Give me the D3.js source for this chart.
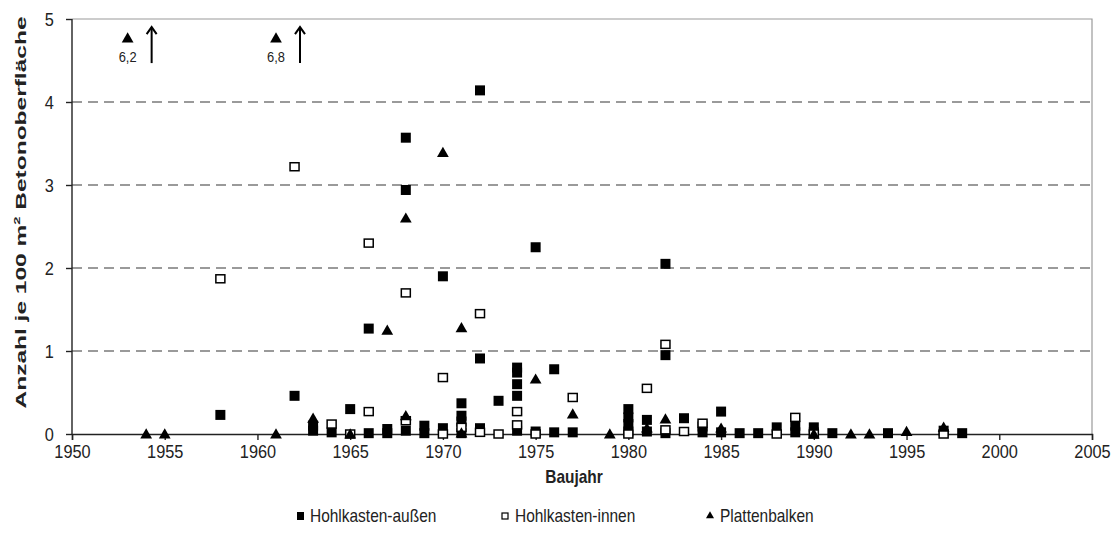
<!DOCTYPE html>
<html>
<head>
<meta charset="utf-8">
<script src="https://cdn.jsdelivr.net/npm/d3@7"></script>
<style>
  body { margin: 0; background: #fff; }
  text { font-family: "Liberation Sans", Arial, sans-serif; }
</style>
</head>
<body>
<div id="chart"></div>
<script>
// Hohlkasten-außen (filled squares)
const outerYears  = [1958, 1962, 1963, 1963, 1964, 1965, 1966, 1966, 1967, 1967, 1968, 1968, 1968,
                     1969, 1969, 1970, 1970, 1971, 1971, 1971, 1971, 1972, 1972, 1972, 1973,
                     1974, 1974, 1974, 1974, 1974, 1975, 1975, 1976, 1976, 1977,
                     1980, 1980, 1980, 1980, 1981, 1981, 1982, 1982, 1982, 1983, 1984, 1984,
                     1985, 1985, 1986, 1987, 1988, 1989, 1989, 1990, 1990, 1991, 1994, 1997, 1998];
const outerValues = [0.23, 0.46, 0.10, 0.04, 0.02, 0.30, 1.27, 0.01, 0.06, 0.01, 3.57, 2.94, 0.04,
                     0.10, 0.01, 1.90, 0.07, 0.37, 0.22, 0.15, 0.01, 4.14, 0.91, 0.07, 0.40,
                     0.80, 0.74, 0.60, 0.46, 0.04, 2.25, 0.03, 0.78, 0.02, 0.02,
                     0.30, 0.20, 0.12, 0.03, 0.17, 0.03, 2.05, 0.95, 0.01, 0.19, 0.09, 0.02,
                     0.27, 0.02, 0.01, 0.01, 0.08, 0.10, 0.02, 0.08, 0.02, 0.01, 0.01, 0.04, 0.01];

// Hohlkasten-innen (open squares)
const innerYears  = [1958, 1962, 1964, 1965, 1966, 1966, 1968, 1968, 1970, 1970, 1971, 1972, 1972,
                     1973, 1974, 1974, 1975, 1977, 1980, 1981, 1982, 1982, 1983, 1984, 1988,
                     1989, 1990, 1997];
const innerValues = [1.87, 3.22, 0.12, 0.00, 2.30, 0.27, 1.70, 0.16, 0.68, 0.00, 0.08, 1.45, 0.02,
                     0.00, 0.27, 0.11, 0.00, 0.44, 0.00, 0.55, 1.08, 0.05, 0.03, 0.13, 0.00,
                     0.20, 0.00, 0.00];

// Plattenbalken (triangles); values above 5 are off the scale
const beamYears  = [1953, 1954, 1955, 1961, 1961, 1963, 1965, 1967, 1968, 1968, 1970, 1971, 1971,
                    1975, 1977, 1979, 1981, 1982, 1985, 1990, 1992, 1993, 1995, 1997];
const beamValues = [6.2, 0.00, 0.00, 6.8, 0.00, 0.19, 0.00, 1.25, 2.60, 0.22, 3.39, 1.28, 0.01,
                    0.66, 0.24, 0.00, 0.07, 0.18, 0.07, 0.00, 0.00, 0.00, 0.03, 0.08];

const xTicks = d3.range(1950, 2006, 5);
const yTicks = [0, 1, 2, 3, 4, 5];
const seriesNames = ["Hohlkasten-außen", "Hohlkasten-innen", "Plattenbalken"];

const W = 1120, H = 549;
const mLeft = 72, mRight = 1092, mTop = 19, mBottom = 434;
const capValue = 4.77; // where off-scale points are drawn
const narrow = "scale(0.86,1)"; // the source text is tall and condensed

const svg = d3.select("#chart").append("svg")
    .attr("width", W).attr("height", H);

const x = d3.scaleLinear().domain([1950, 2005]).range([mLeft, mRight]);
const y = d3.scaleLinear().domain([0, 5]).range([mBottom, mTop]);

// dashed gridlines
svg.append("g").selectAll("line")
    .data(yTicks.filter(d => d > 0 && d < 5))
    .join("line")
    .attr("x1", mLeft).attr("x2", mRight)
    .attr("y1", d => y(d)).attr("y2", d => y(d))
    .attr("stroke", "#7a7a7a").attr("stroke-width", 1.6)
    .attr("stroke-dasharray", "10,6");

// top and right frame
svg.append("path")
    .attr("d", `M${mLeft},${y(5)}H${mRight}V${mBottom}`)
    .attr("fill", "none").attr("stroke", "#9a9a9a").attr("stroke-width", 1.2);

// axes
const xAxis = svg.append("g")
    .attr("transform", `translate(0,${mBottom})`)
    .call(d3.axisBottom(x).tickValues(xTicks).tickFormat(d3.format("d")).tickSize(6).tickPadding(5));
const yAxis = svg.append("g")
    .attr("transform", `translate(${mLeft},0)`)
    .call(d3.axisLeft(y).tickValues(yTicks).tickFormat(d3.format("d")).tickSize(6).tickPadding(15));
[xAxis, yAxis].forEach(g => {
    g.select(".domain").attr("stroke", "#222").attr("stroke-width", 1.4);
    g.selectAll(".tick line").attr("stroke", "#222").attr("stroke-width", 1.4);
    g.selectAll(".tick text").attr("font-size", 19).attr("fill", "#222")
        .attr("font-family", "'Liberation Sans', Arial, sans-serif")
        .attr("transform", narrow);
});
yAxis.select(".domain").attr("d", `M0,${mBottom}V${mTop}`);

// axis titles
svg.append("text")
    .attr("transform", `translate(${(mLeft + mRight) / 2 - 8},483) ${narrow}`)
    .attr("text-anchor", "middle").attr("font-weight", "bold").attr("font-size", 18)
    .attr("fill", "#222").text("Baujahr");
svg.append("text")
    .attr("transform", `translate(26,${(mTop + mBottom) / 2 - 14}) rotate(-90)`)
    .attr("text-anchor", "middle").attr("font-weight", "bold").attr("font-size", 15)
    .attr("textLength", 392).attr("lengthAdjust", "spacingAndGlyphs")
    .attr("fill", "#222")
    .html("Anzahl je 100 m<tspan dy='-6' font-size='9'>2</tspan><tspan dy='6'> Betonoberfläche</tspan>");

const plotY = v => y(Math.min(v, capValue));
const tri = d3.symbol().type(d3.symbolTriangle).size(60);

// filled squares
svg.append("g").selectAll("rect")
    .data(outerYears.map((yr, i) => ({ yr, v: outerValues[i] })))
    .join("rect")
    .attr("x", d => x(d.yr) - 5).attr("y", d => plotY(d.v) - 5)
    .attr("width", 10).attr("height", 10)
    .attr("fill", "#000");

// open squares
svg.append("g").selectAll("rect")
    .data(innerYears.map((yr, i) => ({ yr, v: innerValues[i] })))
    .join("rect")
    .attr("x", d => x(d.yr) - 4.5).attr("y", d => plotY(d.v) - 4)
    .attr("width", 9).attr("height", 8)
    .attr("fill", "#fff").attr("stroke", "#000").attr("stroke-width", 1.5);

// triangles
const beams = beamYears.map((yr, i) => ({ yr, v: beamValues[i] }));
svg.append("g").selectAll("path")
    .data(beams)
    .join("path")
    .attr("d", tri)
    .attr("transform", d => `translate(${x(d.yr)},${plotY(d.v) + 1})`)
    .attr("fill", "#000");

// off-scale annotations
const over = beams.filter(d => d.v > 5);
const ann = svg.append("g").selectAll("g").data(over).join("g");
ann.append("text")
    .attr("transform", d => `translate(${x(d.yr)},${plotY(d.v) + 24}) ${narrow}`)
    .attr("text-anchor", "middle").attr("font-size", 15).attr("fill", "#222")
    .text(d => d3.format(".1f")(d.v).replace(".", ","));
ann.append("line")
    .attr("x1", d => x(d.yr) + 24).attr("x2", d => x(d.yr) + 24)
    .attr("y1", d => plotY(d.v) + 25).attr("y2", d => plotY(d.v) - 10)
    .attr("stroke", "#000").attr("stroke-width", 2);
ann.append("path")
    .attr("d", d => `M${x(d.yr) + 19},${plotY(d.v) - 4}L${x(d.yr) + 24},${plotY(d.v) - 11}L${x(d.yr) + 29},${plotY(d.v) - 4}`)
    .attr("fill", "none").attr("stroke", "#000").attr("stroke-width", 2);

// legend
const legX = [300, 505, 710];
const leg = svg.append("g").selectAll("g").data(seriesNames).join("g")
    .attr("transform", (d, i) => `translate(${legX[i]},516)`);
leg.each(function(d, i) {
    const g = d3.select(this);
    if (i === 0) g.append("rect").attr("x", -3).attr("y", -4).attr("width", 7).attr("height", 8).attr("fill", "#000");
    if (i === 1) g.append("rect").attr("x", -3).attr("y", -3).attr("width", 6).attr("height", 6)
        .attr("fill", "#fff").attr("stroke", "#000").attr("stroke-width", 1.2);
    if (i === 2) g.append("path").attr("d", d3.symbol().type(d3.symbolTriangle).size(28)).attr("fill", "#000");
});
leg.append("text")
    .attr("transform", `translate(10,6) ${narrow}`)
    .attr("font-size", 18).attr("fill", "#222")
    .text(d => d);
</script>
</body>
</html>
